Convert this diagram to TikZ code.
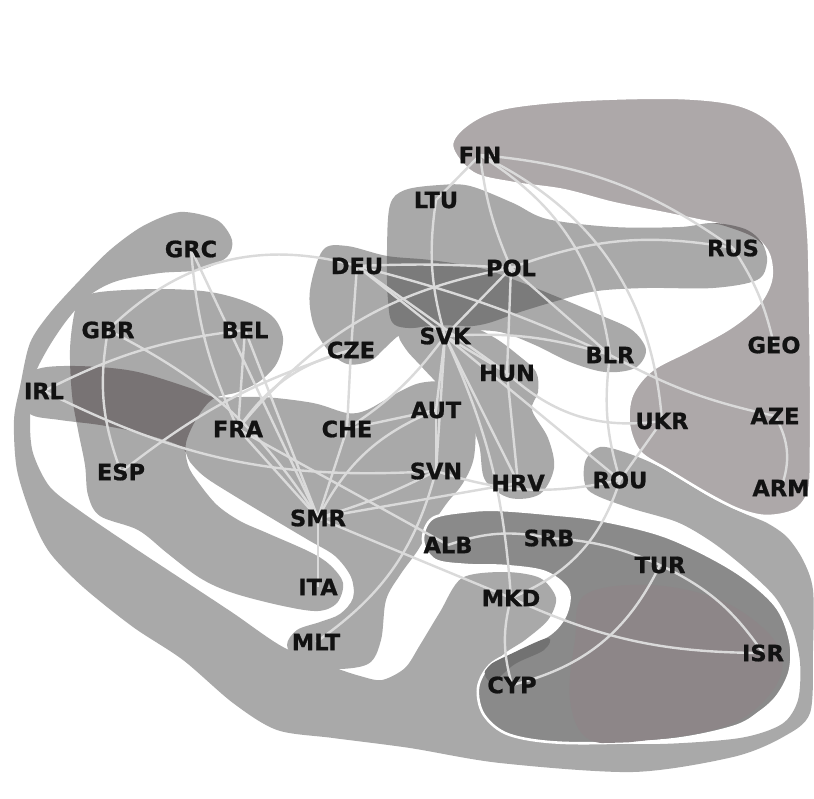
\documentclass[tikz,border=0pt]{standalone}
\usepackage{fontspec}
\setsansfont{DejaVu Sans}[BoldFeatures={FakeBold=0.8}]
\pgfdeclarelayer{blobs}
\pgfdeclarelayer{links}
\pgfsetlayers{blobs,links,main}

\definecolor{blob}{HTML}{A9A9A9}
\definecolor{blobpink}{HTML}{ADA8A9}
\definecolor{overlap}{HTML}{787374}
\definecolor{overlapmid}{HTML}{7B7B7B}
\definecolor{ring}{HTML}{8A8A8A}
\definecolor{ringpink}{HTML}{8D8688}
\definecolor{ringdark}{HTML}{727272}
\definecolor{link}{HTML}{DADADA}
\definecolor{ink}{HTML}{121212}

% group outlines
\def\bandpath{plot[smooth cycle, tension=0.5] coordinates {
 (232,240) (217,220) (180,212) (143,226) (110,250) (80,280) (50,313) (30,343)
 (20,387) (14,420) (17,470) (33,520) (50,553) (83,587) (133,627) (183,660)
 (233,703) (277,730) (333,738) (410,748) (500,763) (633,772) (733,757)
 (783,737) (810,713) (813,650) (813,590) (803,560) (787,537) (767,523)
 (743,513) (710,497) (660,467) (627,453) (600,447) (585,462) (588,490)
 (627,507) (677,522) (712,542) (745,568) (775,597) (792,628) (800,662)
 (798,700) (782,724) (740,738) (660,744) (580,742) (520,735) (495,720)
 (490,690) (500,658) (525,640) (548,620) (556,598) (540,578) (505,572)
 (462,578) (440,612) (420,645) (405,668) (382,680) (360,676) (333,667)
 (283,647) (233,613) (183,580) (133,547) (83,513) (50,487) (33,453)
 (30,420) (33,380) (47,350) (67,320) (90,295) (117,281) (160,273)
 (200,270) (227,257)}}
\def\eastpath{plot[smooth cycle, tension=0.55] coordinates {
 (452,146) (468,124) (505,108) (580,100) (680,98) (742,106) (780,130)
 (800,170) (808,230) (810,300) (811,380) (811,450) (809,490) (795,510)
 (767,516) (740,510) (708,494) (668,470) (640,452) (629,425) (632,395)
 (652,370) (690,350) (730,328) (758,305) (771,280) (769,255) (755,238)
 (725,226) (697,220) (663,213) (613,203) (563,190) (513,183) (473,173)}}
\def\northpath{plot[smooth cycle, tension=0.55] coordinates {
 (390,205) (405,190) (440,185) (470,186) (513,203) (547,219) (613,227)
 (680,227) (713,223) (745,229) (762,243) (767,262) (757,280) (713,288)
 (647,288) (597,291) (560,300) (520,312) (480,325) (430,328) (395,325)
 (388,300) (387,250)}}
\def\centralpath{plot[smooth cycle, tension=0.55] coordinates {
 (323,250) (347,246) (387,256) (430,260) (480,268) (520,282) (560,298)
 (600,315) (632,330) (646,350) (635,368) (605,372) (570,362) (535,345)
 (500,332) (460,330) (420,330) (400,335) (385,348) (370,361) (347,364)
 (327,349) (313,323) (310,290)}}
\def\danubepath{plot[smooth cycle, tension=0.55] coordinates {
 (400,333) (430,326) (470,327) (495,338) (518,355) (536,372) (538,392)
 (532,410) (548,438) (554,468) (540,494) (510,498) (485,480) (479,445)
 (465,410) (442,388) (420,365) (405,348)}}
\def\westpath{plot[smooth cycle, tension=0.55] coordinates {
 (80,300) (100,292) (160,289) (210,292) (247,302) (273,317) (283,338)
 (277,363) (260,381) (238,392) (213,399) (197,418) (186,443) (188,465)
 (198,482) (217,505) (240,521) (267,533) (310,552) (330,565) (343,583)
 (337,603) (318,611) (283,606) (233,593) (200,578) (167,553) (138,530)
 (100,516) (88,495) (85,465) (78,430) (72,395) (70,350) (74,315)}}
\def\alpinepath{plot[smooth cycle, tension=0.55] coordinates {
 (20,392) (35,370) (75,366) (133,371) (190,388) (215,397) (263,397)
 (313,403) (347,413) (367,410) (397,393) (420,383) (447,382) (467,393)
 (475,415) (474,457) (463,483) (447,503) (432,525) (418,550) (400,575)
 (386,600) (381,640) (368,664) (330,669) (298,661) (287,645) (297,630)
 (320,622) (340,614) (353,598) (351,577) (335,556) (310,541) (283,525)
 (233,495) (205,477) (190,462) (180,446) (140,433) (100,425) (60,420)
 (30,414)}}
\def\southpath{plot[smooth cycle, tension=0.55] coordinates {
 (423,540) (433,518) (470,511) (500,510) (550,514) (600,520) (667,537)
 (733,570) (775,605) (790,640) (790,670) (778,695) (760,712) (733,727)
 (667,740) (567,743) (510,735) (484,715) (478,688) (490,665) (517,650)
 (550,634) (566,614) (568,590) (545,572) (505,566) (467,565) (435,560)}}

\tikzset{
  lbl/.style={font=\fontsize{22.5}{22.5}\selectfont\bfseries\sffamily,
              text=ink, inner sep=0pt},
  edge/.style={draw=link, line width=2.4pt},
  outline/.style={draw=white, line width=2.6pt}
}

\begin{document}
\begin{tikzpicture}[x=1pt,y=-1pt]
\useasboundingbox (0,0) rectangle (814,799);

% ---------- labels ----------
\node[lbl] (FIN) at (480,155) {FIN};
\node[lbl] (LTU) at (436,200) {LTU};
\node[lbl] (GRC) at (191,249) {GRC};
\node[lbl] (DEU) at (357,266) {DEU};
\node[lbl] (POL) at (511,268) {POL};
\node[lbl] (RUS) at (733,248) {RUS};
\node[lbl] (GBR) at (108,330) {GBR};
\node[lbl] (BEL) at (245,330) {BEL};
\node[lbl] (CZE) at (351,350) {CZE};
\node[lbl] (SVK) at (445,336) {SVK};
\node[lbl] (BLR) at (610,355) {BLR};
\node[lbl] (GEO) at (774,345) {GEO};
\node[lbl] (IRL) at (44,391) {IRL};
\node[lbl] (HUN) at (507,373) {HUN};
\node[lbl] (FRA) at (238,429) {FRA};
\node[lbl] (CHE) at (347,429) {CHE};
\node[lbl] (AUT) at (436,410) {AUT};
\node[lbl] (UKR) at (662,421) {UKR};
\node[lbl] (AZE) at (775,416) {AZE};
\node[lbl] (ESP) at (121,472) {ESP};
\node[lbl] (SVN) at (436,471) {SVN};
\node[lbl] (HRV) at (518,483) {HRV};
\node[lbl] (ROU) at (620,480) {ROU};
\node[lbl] (ARM) at (781,488) {ARM};
\node[lbl] (SMR) at (318,518) {SMR};
\node[lbl] (ALB) at (448,545) {ALB};
\node[lbl] (SRB) at (549,538) {SRB};
\node[lbl] (TUR) at (660,565) {TUR};
\node[lbl] (ITA) at (318,587) {ITA};
\node[lbl] (MKD) at (511,598) {MKD};
\node[lbl] (MLT) at (316,642) {MLT};
\node[lbl] (ISR) at (763,653) {ISR};
\node[lbl] (CYP) at (512,685) {CYP};

% ---------- group regions ----------
\begin{pgfonlayer}{blobs}
  \fill[white] (0,0) rectangle (814,799);
  \fill[blob] \bandpath;
  \fill[blobpink, outline] \eastpath;
  \fill[blob] \northpath;
  \begin{scope}
    \clip \eastpath;
    \fill[overlap] \northpath;
  \end{scope}
  \fill[blob] \centralpath;
  \begin{scope}
    \clip \northpath;
    \fill[overlapmid] \centralpath;
  \end{scope}
  \fill[blob] \westpath;
  \fill[blob] \alpinepath;
  \begin{scope}
    \clip \westpath;
    \fill[overlap] \alpinepath;
  \end{scope}
  \fill[blob] \danubepath;
  \fill[ring, outline] \southpath;
  \begin{scope}
    \clip \southpath;
    \fill[ringpink] plot[smooth cycle, tension=0.6] coordinates {
      (585,595) (650,585) (720,600) (770,635) (782,670) (760,705)
      (720,728) (650,740) (590,740) (570,700) (575,640)};
    \fill[ringdark] plot[smooth cycle, tension=0.6] coordinates {
      (486,668) (515,652) (548,638) (544,650) (515,664) (492,682)};
  \end{scope}
\end{pgfonlayer}

% ---------- links ----------
\begin{pgfonlayer}{links}
  \draw[edge] (FIN.center) to[bend left=15] (RUS.center);
  \draw[edge] (FIN.center) to[bend right=8] (POL.center);
  \draw[edge] (FIN.center) to[bend left=25] (BLR.center);
  \draw[edge] (FIN.center) to[bend left=30] (UKR.center);
  \draw[edge] (FIN.center) -- (LTU.center);
  \draw[edge] (LTU.center) to[bend right=12] (SVK.center);
  \draw[edge] (RUS.center) to[bend right=15] (POL.center);
  \draw[edge] (RUS.center) to[bend left=10] (GEO.center);
  \draw[edge] (POL.center) -- (SVK.center);
  \draw[edge] (POL.center) -- (BLR.center);
  \draw[edge] (POL.center) -- (HUN.center);
  \draw[edge] (DEU.center) to[bend left=3] (POL.center);
  \draw[edge] (DEU.center) -- (CZE.center);
  \draw[edge] (DEU.center) -- (SVK.center);
  \draw[edge] (DEU.center) to[bend left=5] (BLR.center);
  \draw[edge] (DEU.center) -- (HUN.center);
  \draw[edge] (CZE.center) -- (CHE.center);
  \draw[edge] (FRA.center) to[bend left=20] (POL.center);
  \draw[edge] (ESP.center) to[bend left=10] (CZE.center);
  \draw[edge] (FRA.center) to[bend left=20] (CZE.center);
  \draw[edge] (GBR.center) to[bend left=30] (DEU.center);
  \draw[edge] (GRC.center) to[bend right=10] (FRA.center);
  \draw[edge] (GRC.center) -- (SMR.center);
  \draw[edge] (GBR.center) to[bend right=15] (ESP.center);
  \draw[edge] (GBR.center) to[bend left=15] (SMR.center);
  \draw[edge] (BEL.center) -- (FRA.center);
  \draw[edge] (BEL.center) to[bend right=10] (IRL.center);
  \draw[edge] (BEL.center) -- (SMR.center);
  \draw[edge] (IRL.center) to[bend right=15] (SVN.center);
  \draw[edge] (FRA.center) -- (SMR.center);
  \draw[edge] (FRA.center) -- (ALB.center);
  \draw[edge] (SMR.center) -- (MKD.center);
  \draw[edge] (CHE.center) -- (SMR.center);
  \draw[edge] (CHE.center) -- (AUT.center);
  \draw[edge] (CHE.center) to[bend right=10] (SVK.center);
  \draw[edge] (AUT.center) to[bend right=20] (SMR.center);
  \draw[edge] (SVN.center) to[bend left=5] (SMR.center);
  \draw[edge] (AUT.center) -- (SVN.center);
  \draw[edge] (SVN.center) to[bend left=20] (MLT.center);
  \draw[edge] (SMR.center) -- (ITA.center);
  \draw[edge] (SVK.center) -- (AUT.center);
  \draw[edge] (SVK.center) -- (SVN.center);
  \draw[edge] (SVK.center) -- (HRV.center);
  \draw[edge] (SVK.center) -- (HUN.center);
  \draw[edge] (SVK.center) to[bend left=10] (BLR.center);
  \draw[edge] (SVK.center) -- (ROU.center);
  \draw[edge] (SVK.center) to[bend left=10] (MKD.center);
  \draw[edge] (HUN.center) to[bend right=25] (UKR.center);
  \draw[edge] (HUN.center) -- (HRV.center);
  \draw[edge] (BLR.center) to[bend right=12] (ROU.center);
  \draw[edge] (BLR.center) to[bend right=8] (AZE.center);
  \draw[edge] (AZE.center) to[bend left=25] (ARM.center);
  \draw[edge] (UKR.center) -- (ROU.center);
  \draw[edge] (ROU.center) to[bend left=25] (MKD.center);
  \draw[edge] (SVN.center) to[bend right=15] (ROU.center);
  \draw[edge] (SMR.center) -- (HRV.center);
  \draw[edge] (ALB.center) to[bend left=15] (SRB.center);
  \draw[edge] (SRB.center) to[bend left=10] (TUR.center);
  \draw[edge] (TUR.center) to[bend left=15] (ISR.center);
  \draw[edge] (TUR.center) to[bend left=25] (CYP.center);
  \draw[edge] (MKD.center) to[bend right=15] (CYP.center);
  \draw[edge] (MKD.center) to[bend right=12] (ISR.center);
\end{pgfonlayer}
\end{tikzpicture}
\end{document}
